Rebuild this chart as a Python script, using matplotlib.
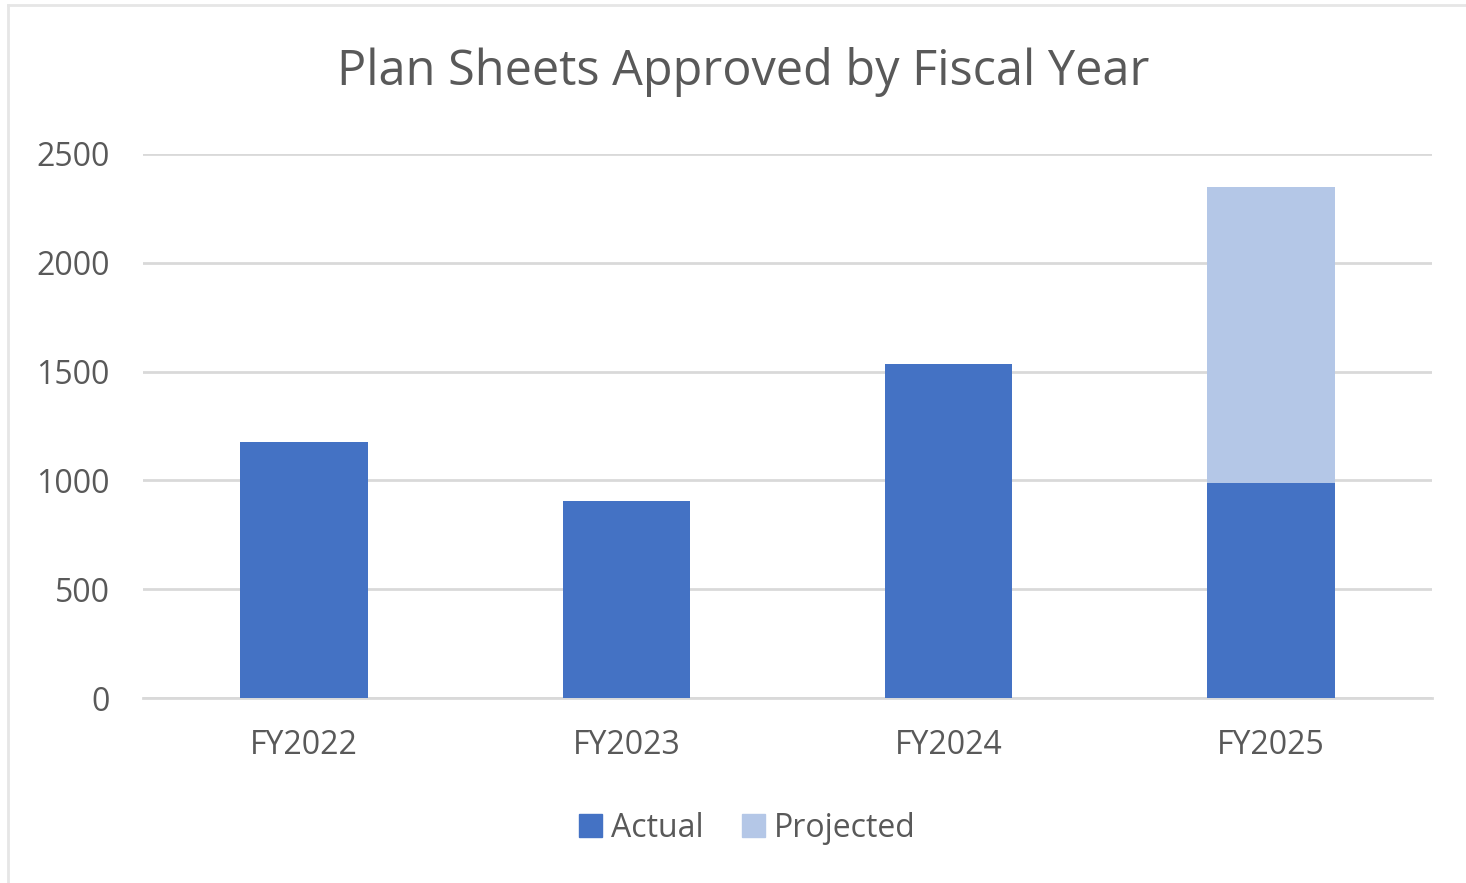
import matplotlib.pyplot as plt
from matplotlib.patches import Patch
from matplotlib.lines import Line2D

# values
years = ['FY2022', 'FY2023', 'FY2024', 'FY2025']
actual = [1176, 905, 1535, 988]
projected = [0, 0, 0, 1360]

BLUE = '#4472c4'
LIGHT_BLUE = '#b4c7e7'
TEXT = '#595959'
GRID = '#d9d9d9'

plt.rcParams['font.family'] = ['Open Sans', 'DejaVu Sans']

fig = plt.figure(figsize=(14.66, 8.83), dpi=100)
ax = fig.add_axes([0.0975, 0.2095, 0.8795, 0.6161])

x = list(range(len(years)))
ax.bar(x, actual, width=0.395, color=BLUE, label='Actual', zorder=3)
ax.bar(x, projected, width=0.395, bottom=actual, color=LIGHT_BLUE, label='Projected', zorder=3)

ax.set_xlim(-0.5, 3.5)
ax.set_ylim(0, 2500)
ax.set_yticks([0, 500, 1000, 1500, 2000, 2500])
ax.set_xticks(x)
ax.set_xticklabels(years)
ax.tick_params(axis='both', length=0, labelsize=23, colors=TEXT)
ax.tick_params(axis='y', pad=24)
ax.tick_params(axis='x', pad=22)
ax.yaxis.grid(True, color=GRID, linewidth=2, zorder=0)
for s in ['top', 'right', 'left']:
    ax.spines[s].set_visible(False)
ax.spines['bottom'].set_color(GRID)
ax.spines['bottom'].set_linewidth(2)

fig.text(0.507, 0.918, 'Plan Sheets Approved by Fiscal Year', ha='center', va='center',
         fontsize=35, color=TEXT)

handles = [Patch(color=BLUE), Patch(color=LIGHT_BLUE)]
fig.legend(handles, ['Actual', 'Projected'], loc='center', bbox_to_anchor=(0.51, 0.062),
           ncol=2, frameon=False, fontsize=23, labelcolor=TEXT,
           handlelength=0.7, handleheight=0.7, handletextpad=0.3, columnspacing=1.2)

# light frame on the left and top edges, like the screenshot
fig.add_artist(Line2D([0.0055, 0.0055], [0, 0.994], color='#e6e6e6', linewidth=2))
fig.add_artist(Line2D([0.0055, 1], [0.994, 0.994], color='#e6e6e6', linewidth=2))

fig.savefig('out.png', dpi=100)
